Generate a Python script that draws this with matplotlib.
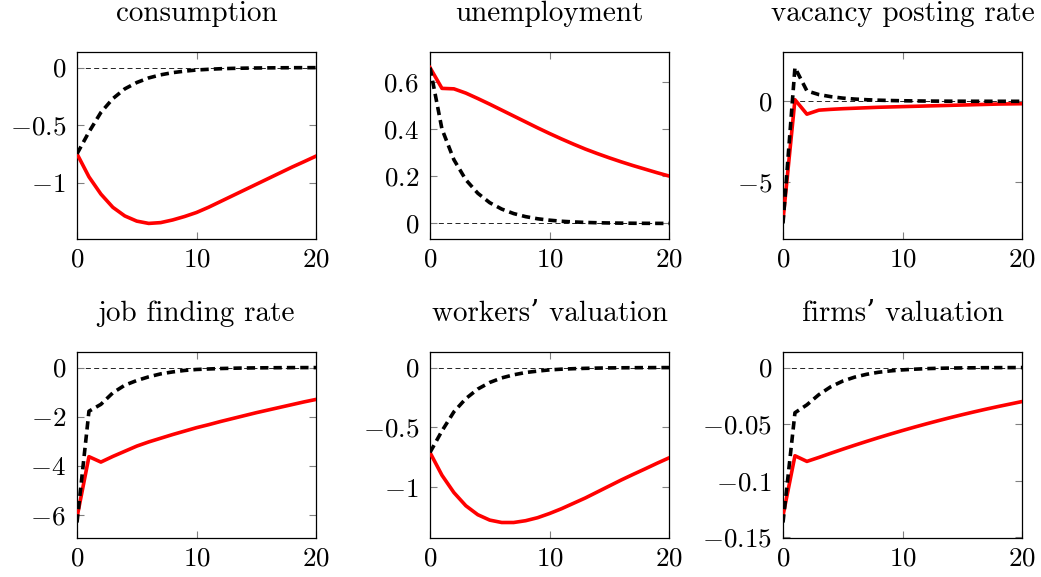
import matplotlib
matplotlib.use("Agg")
import matplotlib.pyplot as plt
from matplotlib.ticker import FuncFormatter
import numpy as np

# computer modern look; DejaVu Serif picks up the curly apostrophe
plt.rcParams['font.family'] = ['cmr10', 'DejaVu Serif']
plt.rcParams['mathtext.fontset'] = 'cm'
plt.rcParams['axes.formatter.use_mathtext'] = True

t = np.arange(21)

titles = ["consumption", "unemployment", "vacancy posting rate",
          "job finding rate", "workers\u2019 valuation", "firms\u2019 valuation"]

# red solid lines
cons_red = [-0.75, -0.95, -1.10, -1.215, -1.29, -1.335, -1.355, -1.348, -1.325, -1.295, -1.26,
            -1.215, -1.165, -1.115, -1.065, -1.015, -0.965, -0.915, -0.865, -0.818, -0.77]
unemp_red = [0.66, 0.572, 0.570, 0.552, 0.529, 0.505, 0.480, 0.455, 0.430, 0.405, 0.381,
             0.358, 0.336, 0.315, 0.296, 0.278, 0.261, 0.245, 0.230, 0.215, 0.201]
vac_red = [-7.4, 0.1, -0.8, -0.55, -0.5, -0.46, -0.43, -0.40, -0.37, -0.35, -0.33,
           -0.31, -0.29, -0.27, -0.25, -0.23, -0.21, -0.19, -0.17, -0.16, -0.15]
jf_red = [-6.1, -3.63, -3.85, -3.62, -3.41, -3.20, -3.03, -2.88, -2.73, -2.59, -2.45,
          -2.33, -2.20, -2.08, -1.96, -1.84, -1.73, -1.62, -1.51, -1.40, -1.30]
work_red = [-0.71, -0.90, -1.045, -1.155, -1.23, -1.275, -1.295, -1.295, -1.28, -1.255, -1.22,
            -1.18, -1.135, -1.09, -1.04, -0.99, -0.94, -0.893, -0.847, -0.80, -0.755]
firm_red = [-0.131, -0.078, -0.083, -0.0795, -0.0758, -0.0722, -0.0687, -0.0653, -0.062, -0.0588, -0.0557,
            -0.0527, -0.0498, -0.047, -0.0443, -0.0417, -0.0392, -0.0368, -0.0345, -0.0323, -0.0301]

# black dashed lines
cons_blk = [-0.75, -0.56, -0.39, -0.27, -0.185, -0.13, -0.09, -0.063, -0.044, -0.031, -0.021,
            -0.015, -0.010, -0.007, -0.005, -0.0035, -0.0025, -0.0017, -0.0012, -0.0008, -0.0006]
unemp_blk = [0.66, 0.40, 0.27, 0.185, 0.128, 0.088, 0.061, 0.042, 0.029, 0.020, 0.014,
             0.0095, 0.0066, 0.0045, 0.0031, 0.0022, 0.0015, 0.001, 0.0007, 0.0005, 0.0003]
vac_blk = [-7.6, 2.1, 0.65, 0.42, 0.29, 0.2, 0.14, 0.1, 0.07, 0.05, 0.035,
           0.025, 0.017, 0.012, 0.008, 0.006, 0.004, 0.003, 0.002, 0.0014, 0.001]
jf_blk = [-6.31, -1.78, -1.5, -1.03, -0.72, -0.53, -0.38, -0.26, -0.18, -0.12, -0.08,
          -0.06, -0.042, -0.03, -0.021, -0.015, -0.011, -0.008, -0.005, -0.004, -0.003]
work_blk = [-0.71, -0.53, -0.37, -0.26, -0.18, -0.125, -0.087, -0.061, -0.042, -0.03, -0.02,
            -0.014, -0.01, -0.007, -0.005, -0.0034, -0.0024, -0.0017, -0.0012, -0.0008, -0.0006]
firm_blk = [-0.137, -0.040, -0.033, -0.024, -0.017, -0.012, -0.0085, -0.006, -0.0042, -0.003, -0.0021,
            -0.0015, -0.001, -0.0007, -0.0005, -0.00035, -0.00025, -0.00018, -0.00012, -0.00009, -0.00006]

reds = [cons_red, unemp_red, vac_red, jf_red, work_red, firm_red]
blacks = [cons_blk, unemp_blk, vac_blk, jf_blk, work_blk, firm_blk]
yticks = [[-1, -0.5, 0], [0, 0.2, 0.4, 0.6], [-5, 0],
          [-6, -4, -2, 0], [-1, -0.5, 0], [-0.15, -0.1, -0.05, 0]]

fig = plt.figure(figsize=(10.41, 5.77), dpi=100)
lefts = [77, 430, 783]
rows = [(52, 239), (352, 538)]
W, H = 1041.0, 577.0

def fmt(v, pos):
    s = "%g" % v
    if s == "-0":
        s = "0"
    return "$" + s + "$"

for i in range(6):
    r, c = divmod(i, 3)
    top, bot = rows[r]
    ax = fig.add_axes([lefts[c] / W, 1 - bot / H, 239 / W, (bot - top) / H])
    ax.axhline(0, color='black', lw=0.6, dashes=(6, 4), zorder=1)
    ax.plot(t, reds[i], color='red', lw=2.6, zorder=3, solid_joinstyle='round')
    ax.plot(t, blacks[i], color='black', lw=2.6, dashes=(2.3, 1.4), zorder=4)
    lo = min(min(reds[i]), min(blacks[i]))
    hi = max(max(reds[i]), max(blacks[i]), 0)
    rng = hi - lo
    ax.set_ylim(lo - 0.1 * rng, hi + 0.1 * rng)
    ax.set_xlim(0, 20)
    ax.set_xticks([0, 10, 20])
    ax.set_yticks(yticks[i])
    ax.yaxis.set_major_formatter(FuncFormatter(fmt))
    ax.xaxis.set_major_formatter(FuncFormatter(fmt))
    ax.tick_params(direction='in', top=True, right=True, length=5, width=0.8,
                   color='0.5', labelsize=19.5)
    ax.tick_params(axis='y', pad=8)
    ax.tick_params(axis='x', pad=6)
    for sp in ax.spines.values():
        sp.set_linewidth(0.9)
    ax.set_title(titles[i], fontsize=21, pad=22)

fig.savefig("out.png", dpi=100)
